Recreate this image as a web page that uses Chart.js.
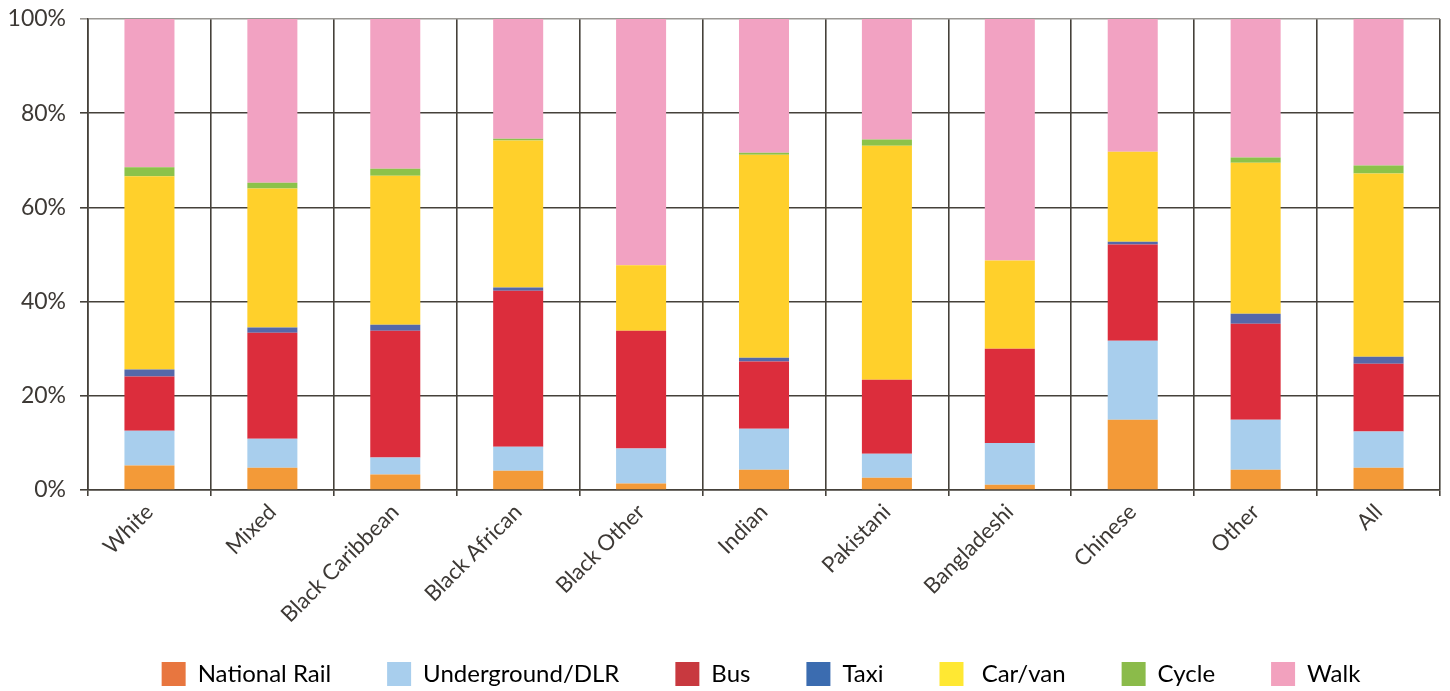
<!DOCTYPE html>
<html>
<head>
<meta charset="utf-8">
<script src="https://cdn.jsdelivr.net/npm/chart.js@4/dist/chart.umd.min.js"></script>
<style>
  html, body { margin: 0; padding: 0; background: #fff; }
  #wrap { width: 1450px; height: 691px; position: relative; }
</style>
</head>
<body>
<div id="wrap"><canvas id="modeShare"></canvas></div>
<script>
// Share of trips by main mode, per ethnic group (%)
const categories = ["White", "Mixed", "Black Caribbean", "Black African", "Black Other",
  "Indian", "Pakistani", "Bangladeshi", "Chinese", "Other", "All"];

const nationalRail = [5.2, 4.7, 3.3, 4.1, 1.4, 4.3, 2.6, 1.1, 14.9, 4.3, 4.7];
const underground  = [7.4, 6.2, 3.6, 5.1, 7.4, 8.7, 5.1, 8.9, 16.8, 10.6, 7.7];
const bus          = [11.5, 22.5, 26.9, 33.1, 25.0, 14.3, 15.7, 20.0, 20.4, 20.4, 14.4];
const taxi         = [1.5, 1.1, 1.3, 0.7, 0, 0.8, 0, 0, 0.6, 2.1, 1.5];
const carVan       = [41.0, 29.5, 31.6, 31.2, 13.9, 43.1, 49.7, 18.7, 19.1, 32.1, 38.9];
const cycle        = [1.9, 1.25, 1.5, 0.4, 0, 0.4, 1.3, 0, 0, 1.1, 1.7];
const walk         = [31.5, 34.75, 31.8, 25.4, 52.3, 28.4, 25.6, 51.3, 28.2, 29.4, 31.1];

const yTicks = [0, 20, 40, 60, 80, 100];

const seriesNames = ["National Rail", "Underground/DLR", "Bus", "Taxi", " Car/van", "Cycle", "Walk"];
const seriesData = [nationalRail, underground, bus, taxi, carVan, cycle, walk];

// bar fills and (slightly different) legend swatches
const barColors = ["#F39A38", "#A8CEED", "#DC2D3C", "#5568AA", "#FFD02B", "#8CC24A", "#F2A2C2"];
const keyColors = ["#E8763F", "#A8CEED", "#C8393F", "#3B6CB0", "#FFE833", "#8BBB4A", "#F2A1BE"];

const textColor = "#3d3935";
const gridColor = "#45413a";

Chart.defaults.font.family = "Lato, 'Open Sans', sans-serif";

// nudge the legend block to sit under the plot (and keep its clip box around the row)
const legendNudge = {
  id: "legendNudge",
  afterLayout(chart) {
    const lg = chart.legend;
    if (!lg) return;
    const dx = 41, dy = -19;
    lg.left += dx; lg.right += dx;
    lg.top += dy;
    lg.bottom = chart.height;
  },
};

const ctx = document.getElementById("modeShare");
new Chart(ctx, {
  type: "bar",
  data: {
    labels: categories,
    datasets: seriesNames.map((name, i) => ({
      label: name,
      data: seriesData[i],
      backgroundColor: barColors[i],
      borderWidth: 0,
      barPercentage: 0.407,
      categoryPercentage: 1.0,
    })),
  },
  plugins: [legendNudge],
  options: {
    responsive: true,
    maintainAspectRatio: false,
    animation: false,
    layout: { padding: { top: 1, right: 10, bottom: 4, left: 0 } },
    plugins: {
      tooltip: { enabled: false },
      legend: {
        position: "bottom",
        maxHeight: 62,
        labels: {
          color: textColor,
          font: { size: 24 },
          boxWidth: 24,
          boxHeight: 24,
          padding: 56,
          generateLabels: (chart) =>
            chart.data.datasets.map((ds, i) => ({
              text: ds.label,
              fillStyle: keyColors[i],
              strokeStyle: keyColors[i],
              lineWidth: 0,
              hidden: false,
              datasetIndex: i,
            })),
        },
      },
    },
    scales: {
      x: {
        stacked: true,
        afterFit: (scale) => {
          scale.height = 135;
        },
        grid: {
          offset: true,
          color: gridColor,
          lineWidth: 1.6,
          tickLength: 6,
        },
        border: { color: gridColor, width: 1.6 },
        ticks: {
          color: textColor,
          font: { size: 22 },
          minRotation: 45,
          maxRotation: 45,
          padding: 3,
        },
      },
      y: {
        stacked: true,
        min: 0,
        max: 100,
        afterBuildTicks: (scale) => {
          scale.ticks = yTicks.map((v) => ({ value: v }));
        },
        afterFit: (scale) => {
          scale.width = 88;
          scale.paddingTop = 19;
        },
        grid: {
          color: (c) => (c.tick && c.tick.value === 100 ? "#9a9893" : gridColor),
          lineWidth: 1.6,
          tickLength: 8,
        },
        border: { color: gridColor, width: 1.6 },
        ticks: {
          color: textColor,
          font: { size: 23 },
          padding: 14,
          callback: (v) => v + "%",
        },
      },
    },
  },
});
</script>
</body>
</html>
